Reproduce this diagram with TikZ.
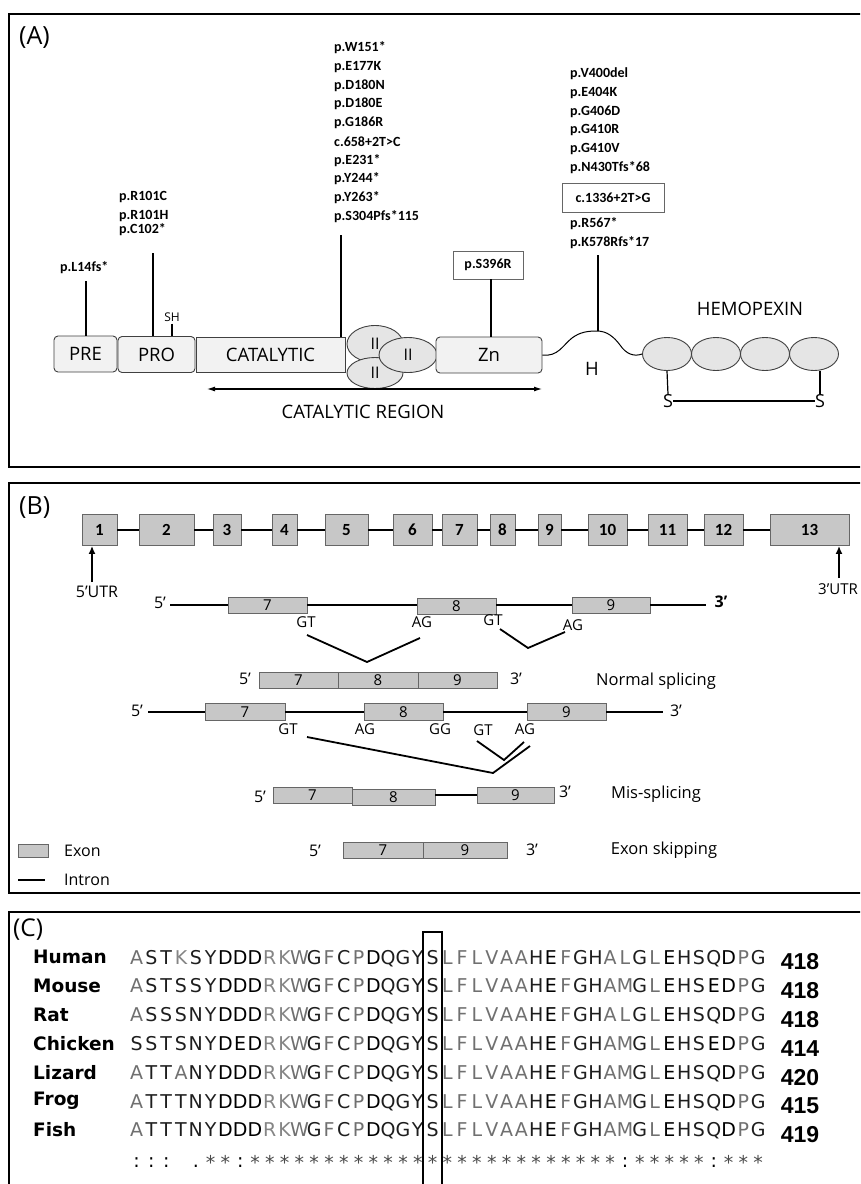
\documentclass[tikz,border=0pt]{standalone}
\usepackage{fontspec}
\setmainfont{Open Sans}
\newfontfamily\calib{Carlito}
\newfontfamily\dejav{DejaVu Sans}
\newfontfamily\libsans{Liberation Sans}
\usetikzlibrary{shapes.geometric,arrows.meta}
\definecolor{seqgray}{HTML}{707070}
\definecolor{seqgrayb}{HTML}{858585}
\definecolor{seqdark}{HTML}{1E1E1E}
\definecolor{starg}{HTML}{4A4A4A}
\newcommand\fsz[1]{\fontsize{#1}{#1}\selectfont}
\makeatletter
\newcommand\aacolor[1]{%
  \in@{#1}{AVFPMILW}\ifin@\color{seqgray}\else
  \in@{#1}{RK}\ifin@\color{seqgrayb}\else
  \in@{#1}{DE}\ifin@\color{black}\else
  \color{seqdark}\fi\fi\fi}
\newcommand\aabox[1]{\makebox[14.8pt]{\aacolor{#1}#1}}
\def\seqloop#1{\ifx#1\relax\else\aabox{#1}\expandafter\seqloop\fi}
\newcommand\seqrow[1]{\seqloop#1\relax}
\newcommand\consbox[1]{\makebox[14.8pt]{\ifx#1-\else\ifx#1*\raisebox{-2pt}{\color{starg}*}\else#1\fi\fi}}
\def\consloop#1{\ifx#1\relax\else\consbox{#1}\expandafter\consloop\fi}
\newcommand\consrow[1]{\consloop#1\relax}
\makeatother
\begin{document}
\begin{tikzpicture}[x=1pt,y=-1pt,
  frame/.style={draw=black,line width=2.6pt},
  dom/.style={draw=black!75,fill=black!5,line width=0.9pt,inner sep=0pt,font=\fsz{18.5}},
  ell/.style={ellipse,draw=black!75,fill=black!10,line width=0.9pt,inner sep=0pt,font=\fsz{16}},
  mut/.style={font=\calib\bfseries\fsz{14},inner sep=0pt,anchor=west},
  mutbox/.style={draw=black!60,line width=0.9pt,font=\calib\bfseries\fsz{14},inner sep=0pt},
  mline/.style={line width=1.3pt},
  lab/.style={font=\fsz{18.5},inner sep=0pt},
  plabel/.style={font=\fsz{25},inner sep=0pt,anchor=west},
  exonT/.style={draw=black!60,fill=black!22,line width=0.8pt,inner sep=0pt,minimum height=31pt,font=\calib\bfseries\fsz{17}},
  exon/.style={draw=black!60,fill=black!22,line width=0.8pt,inner sep=0pt,minimum height=16pt,font=\fsz{15}},
  intron/.style={line width=1.8pt},
  btxt/.style={font=\fsz{15},inner sep=0pt},
  spec/.style={font=\dejav\bfseries\fsz{18.5},inner sep=0pt,anchor=west},
  seqtxt/.style={font=\dejav\fsz{19},inner sep=0pt,anchor=base west},
  numtxt/.style={font=\libsans\bfseries\fsz{23},inner sep=0pt},
  upar/.style={-{Latex[length=8pt,width=7pt]},line width=1.6pt}
]
\useasboundingbox (0,0) rectangle (860,1184);
\clip (0,0) rectangle (860,1184);
\fill[white] (0,0) rectangle (860,1184);

% ---------------- frames
\draw[frame] (9,14) rectangle (890,467);
\draw[frame] (9,483) rectangle (890,893);
\draw[frame] (9,912) rectangle (890,1210);

% ---------------- panel A
\node[plabel] (labA) at (19,38) {(A)};
\node[dom,rounded corners=4pt,minimum width=63pt,minimum height=36pt] (pre) at (85.5,354) {PRE};
\node[dom,rounded corners=4pt,minimum width=77pt,minimum height=36pt] (pro) at (156.5,354.5) {PRO};
\node[dom,minimum width=149pt,minimum height=35pt] (cat) at (270.5,355) {CATALYTIC};
\node[ell,minimum width=56pt,minimum height=37pt] (ella) at (375,344) {II};
\node[ell,minimum width=56pt,minimum height=31pt] (ellb) at (375,373) {II};
\node[ell,minimum width=58pt,minimum height=35pt] (ellc) at (408,355) {II};
\node[dom,rounded corners=4pt,minimum width=106pt,minimum height=36pt] (zn) at (489,355) {Zn};
\node[ell,minimum width=49pt,minimum height=33pt] (hp1) at (667,354) {};
\node[ell,minimum width=49pt,minimum height=33pt] (hp2) at (716,354) {};
\node[ell,minimum width=49pt,minimum height=33pt] (hp3) at (765,354) {};
\node[ell,minimum width=49pt,minimum height=33pt] (hp4) at (814,354) {};
\node[lab] (hemo) at (750,309) {HEMOPEXIN};
\node[lab] (hlab) at (592,369) {H};
\coordinate (hb) at (597,331);
\draw[line width=1pt] (zn.east) .. controls (558,357) and (563,345) .. (572,338)
  .. controls (580,332) and (588,331) .. (hb)
  .. controls (607,331) and (614,337) .. (620,345)
  .. controls (626,354) and (634,357) .. (hp1.west);
\node[lab,font=\fsz{18}] (s1) at (668,401) {S};
\node[lab,font=\fsz{18}] (s2) at (820,401) {S};
\draw[line width=1.2pt] (hp1.south) -- (s1.north);
\draw[line width=1.2pt] (hp4.south -| s2) -- (s2.north);
\draw[line width=1.2pt] (s1) -- (s2);

% catalytic region arrow
\coordinate (cra) at (207,389);
\coordinate (crb) at (542,389);
\draw[{Latex[length=8pt,width=5pt]}-{Latex[length=8pt,width=5pt]},line width=1.1pt] (cra) -- (crb);
\node[lab] (crlab) at (363,412) {CATALYTIC REGION};

% mutation labels and lines
\node[mut] (l14) at (60,268) {p.L14fs*};
\coordinate (l14t) at (86,281);
\draw[mline] (l14t) -- (l14t |- pre.north);
\node[mut] (pr1) at (119,197) {p.R101C};
\node[mut] (pr2) at (119,216) {p.R101H};
\node[mut] (pr3) at (119,230) {p.C102*};
\coordinate (prt) at (153,253);
\draw[mline] (prt) -- (prt |- pro.north);
\node[font=\fsz{12},inner sep=0pt] (sh) at (172,317) {SH};
\draw[line width=1.1pt] (sh.south) ++(0,2) coordinate (shb) -- (shb |- pro.north);
\foreach \t [count=\i] in {p.W151*,p.E177K,p.D180N,p.D180E,p.G186R,c.658+2T>C,p.E231*,p.Y244*,p.Y263*,p.S304Pfs*115}
  \node[mut] (mc\i) at (334,{48+18.7*(\i-1)}) {\t};
\coordinate (catt) at (341,235);
\draw[mline] (catt) -- (catt |- cat.north);
\node[mutbox,minimum width=70pt,minimum height=28pt] (s396) at (488,265) {p.S396R};
\draw[mline] (s396.south) ++(3,0) coordinate (s396b) -- (s396b |- zn.north);
\foreach \t [count=\i] in {p.V400del,p.E404K,p.G406D,p.G410R,p.G410V,p.N430Tfs*68}
  \node[mut] (mh\i) at (570,{74+18.8*(\i-1)}) {\t};
\node[mutbox,minimum width=102pt,minimum height=29pt] (mhbox) at (613,198) {c.1336+2T>G};
\node[mut] (mh7) at (570,224) {p.R567*};
\node[mut] (mh8) at (570,243) {p.K578Rfs*17};
\coordinate (ht) at (598,255);
\draw[mline] (ht) -- (ht |- hb);

% ---------------- panel B
\node[plabel] (labB) at (19,508) {(B)};
\foreach \n/\x/\w in {1/99.5/35pt,2/166.5/55pt,3/227/28pt,4/284.5/25pt,5/346.5/43pt,6/412.5/39pt,7/459.5/35pt,8/502.5/25pt,9/549.5/23pt,10/607.5/39pt,11/667.5/39pt,12/723.5/39pt,13/809.5/79pt}
  \node[exonT,minimum width=\w] (e\n) at (\x,530) {\n};
\foreach \a/\b in {1/2,2/3,3/4,4/5,5/6,6/7,7/8,8/9,9/10,10/11,11/12,12/13}
  \draw[intron] (e\a) -- (e\b);
\node[btxt,font=\fsz{16}] (utr5) at (97,592) {5’UTR};
\coordinate (u5) at (92,582);
\draw[upar] (u5) -- (u5 |- e1.south);
\node[btxt,font=\fsz{15},anchor=west] (utr3) at (818,589) {3’UTR};
\coordinate (u3) at (839,578);
\draw[upar] (u3) -- (u3 |- e13.south);

% row 1: pre-mRNA normal
\node[btxt,font=\fsz{16}] (r1five) at (160,603) {5’};
\coordinate (r1start) at (170,605);
\node[exon,minimum width=79pt] (r1e7) at (267.5,605) {7};
\node[exon,minimum width=79pt] (r1e8) at (456.5,606) {8};
\node[exon,minimum width=78pt] (r1e9) at (611,605) {9};
\coordinate (r1end) at (706,605);
\node[btxt,font=\bfseries\fsz{16}] (r1three) at (721,602) {3’};
\draw[intron] (r1start) -- (r1e7.west);
\draw[intron] (r1e7.east) -- (r1e8.west |- r1e7);
\draw[intron] (r1e8.east |- r1e9) -- (r1e9.west);
\draw[intron] (r1e9.east) -- (r1end);
\node[btxt] (r1gt1) at (306,622) {GT};
\node[btxt] (r1ag1) at (422,622) {AG};
\node[btxt] (r1gt2) at (493,620) {GT};
\node[btxt] (r1ag2) at (573,625) {AG};
\coordinate (sa1) at (307,635);
\coordinate (sa2) at (367,662);
\coordinate (sa3) at (420,638);
\coordinate (sb1) at (500,629);
\coordinate (sb2) at (528,648);
\coordinate (sb3) at (565,632);
\draw[intron] (sa1) -- (sa2) -- (sa3);
\draw[intron] (sb1) -- (sb2) -- (sb3);

% row 2: normal mRNA
\node[btxt,font=\fsz{16}] (r2five) at (245,679) {5’};
\node[exon,minimum width=79pt] (r2e7) at (298.5,680) {7};
\node[exon,minimum width=80pt] (r2e8) at (378,680) {8};
\node[exon,minimum width=79pt] (r2e9) at (457.5,680) {9};
\node[btxt,font=\fsz{16}] (r2three) at (516,679) {3’};
\node[btxt,font=\fsz{16.5}] (r2lab) at (656,681) {Normal splicing};

% row 3: pre-mRNA mutant
\node[btxt,font=\fsz{16}] (r3five) at (137,711) {5’};
\coordinate (r3start) at (148,712);
\node[exon,minimum width=80pt,minimum height=17pt] (r3e7) at (245,712) {7};
\node[exon,minimum width=79pt,minimum height=17pt] (r3e8) at (403.5,712) {8};
\node[exon,minimum width=79pt,minimum height=17pt] (r3e9) at (566.5,712) {9};
\coordinate (r3end) at (663,712);
\node[btxt,font=\fsz{16}] (r3three) at (676,711) {3’};
\draw[intron] (r3start) -- (r3e7.west);
\draw[intron] (r3e7.east) -- (r3e8.west);
\draw[intron] (r3e8.east) -- (r3e9.west);
\draw[intron] (r3e9.east) -- (r3end);
\node[btxt] (r3gt1) at (288,729) {GT};
\node[btxt] (r3ag1) at (365,729) {AG};
\node[btxt] (r3gg) at (440,729) {GG};
\node[btxt] (r3gt2) at (483,730) {GT};
\node[btxt] (r3ag2) at (525,729) {AG};
\coordinate (ma1) at (307,737);
\coordinate (ma2) at (493,773);
\coordinate (ma3) at (530,746);
\coordinate (mb1) at (477,741);
\coordinate (mb2) at (504,760);
\coordinate (mb3) at (524,742);
\draw[intron] (ma1) -- (ma2) -- (ma3);
\draw[intron] (mb1) -- (mb2) -- (mb3);

% row 4: mis-splicing
\node[btxt,font=\fsz{16}] (r4five) at (260,797) {5’};
\node[exon,minimum width=79pt] (r4e7) at (312.5,795) {7};
\node[exon,minimum width=83pt] (r4e8) at (393.5,797) {8};
\node[exon,minimum width=77pt] (r4e9) at (515.5,795) {9};
\draw[intron] (r4e8.east |- r4e9) -- (r4e9.west);
\node[btxt,font=\fsz{16}] (r4three) at (565,792) {3’};
\node[btxt,font=\fsz{16.5}] (r4lab) at (656,794) {Mis-splicing};

% row 5: exon skipping
\node[btxt,font=\fsz{16}] (r5five) at (315,851) {5’};
\node[exon,minimum width=80pt] (r5e7) at (383,850) {7};
\node[exon,minimum width=84pt] (r5e9) at (465,850) {9};
\node[btxt,font=\fsz{16}] (r5three) at (532,850) {3’};
\node[btxt,font=\fsz{16.5}] (r5lab) at (664,850) {Exon skipping};

% legend
\node[exon,minimum width=30pt,minimum height=13pt] (legex) at (33,851) {};
\node[btxt,font=\fsz{16},anchor=west] (legext) at (64,851) {Exon};
\coordinate (li1) at (18,880);
\coordinate (li2) at (45,880);
\draw[line width=1.5pt] (li1) -- (li2);
\node[btxt,font=\fsz{16},anchor=west] (legint) at (64,880) {Intron};

% ---------------- panel C
\node[plabel,font=\fsz{24.5}] (labC) at (13,930) {(C)};
\foreach \nm/\yy/\sq/\num [count=\i] in {
  Human/957/ASTKSYDDDRKWGFCPDQGYSLFLVAAHEFGHALGLEHSQDPG/418,
  Mouse/985.8/ASTSSYDDDRKWGFCPDQGYSLFLVAAHEFGHAMGLEHSEDPG/418,
  Rat/1014.6/ASSSNYDDDRKWGFCPDQGYSLFLVAAHEFGHALGLEHSQDPG/418,
  Chicken/1043.4/SSTSNYDEDRKWGFCPDQGYSLFLVAAHEFGHAMGLEHSEDPG/414,
  Lizard/1072.2/ATTANYDDDRKWGFCPDQGYSLFLVAAHEFGHAMGLEHSQDPG/420,
  Frog/1101/ATTTNYDDDRKWGFCPDQGYSLFLVAAHEFGHAMGLEHSQDPG/415,
  Fish/1129.8/ATTTNYDDDRKWGFCPDQGYSLFLVAAHEFGHAMGLEHSQDPG/419}
{
  \node[spec] (sp\i) at (33,\yy) {\nm};
  \node[seqtxt] (sq\i) at (129,{\yy+7}) {\expandafter\seqrow\expandafter{\sq}};
  \node[numtxt] (nu\i) at (800,{\yy+5}) {\num};
}
\node[seqtxt] (cons) at (129,1167) {\consrow{:::-.**:*************************:*****:***}};
\node[draw,line width=2.4pt,minimum width=19pt,minimum height=262pt,inner sep=0pt] (sbox) at (432.5,1063) {};
\end{tikzpicture}
\end{document}
